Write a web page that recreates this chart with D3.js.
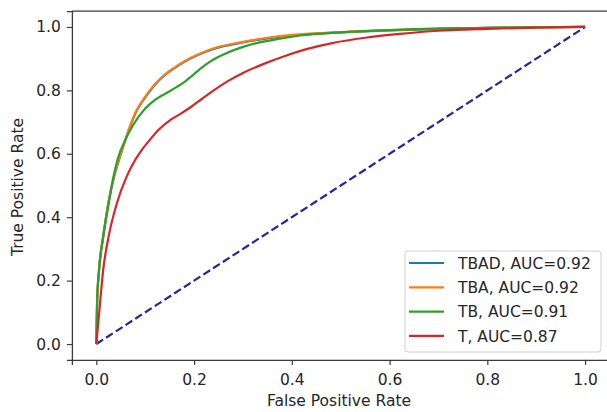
<!DOCTYPE html>
<html>
<head>
<meta charset="utf-8">
<script src="https://cdn.jsdelivr.net/npm/d3@7"></script>
<style>
  body { margin: 0; background: #fff; }
  svg { display: block; font-family: "DejaVu Sans", sans-serif; }
</style>
</head>
<body>
<svg></svg>
<script>
const width = 607;
const height = 412;

// ROC points: [fpr, tpr]
const seriesNames = ["TBAD, AUC=0.92", "TBA, AUC=0.92", "TB, AUC=0.91", "T, AUC=0.87"];
const seriesColors = ["#1f77b4", "#ff7f0e", "#2ca02c", "#d62728"];

const tbadPoints = [[0,0],[0.0015,0.128],[0.0055,0.232],[0.014,0.337],[0.025,0.447],[0.036,0.525],[0.05,0.598],[0.065,0.668],[0.08,0.728],[0.1,0.778],[0.12,0.818],[0.14,0.848],[0.16,0.87],[0.18,0.89],[0.21,0.913],[0.245,0.933],[0.3,0.951],[0.35,0.964],[0.4,0.973],[0.45,0.979],[0.5,0.983],[0.6,0.989],[0.7,0.994],[0.8,0.997],[0.9,0.999],[1,1]];
const tbaPoints = [[0,0],[0.0015,0.13],[0.0055,0.235],[0.014,0.34],[0.025,0.45],[0.036,0.528],[0.05,0.6],[0.065,0.67],[0.08,0.73],[0.1,0.78],[0.12,0.82],[0.14,0.85],[0.16,0.872],[0.18,0.892],[0.21,0.915],[0.245,0.935],[0.3,0.953],[0.35,0.966],[0.4,0.975],[0.45,0.98],[0.5,0.984],[0.6,0.99],[0.7,0.995],[0.8,0.997],[0.9,0.999],[1,1]];
const tbPoints = [[0,0],[0.0015,0.13],[0.0055,0.233],[0.014,0.338],[0.025,0.44],[0.035,0.528],[0.045,0.59],[0.059,0.643],[0.075,0.69],[0.1,0.743],[0.12,0.77],[0.147,0.795],[0.165,0.811],[0.18,0.826],[0.195,0.845],[0.215,0.871],[0.232,0.89],[0.26,0.913],[0.294,0.934],[0.33,0.95],[0.376,0.963],[0.417,0.973],[0.5,0.983],[0.6,0.99],[0.7,0.995],[0.8,0.997],[0.9,0.999],[1,1]];
const tPoints = [[0,0],[0.0025,0.044],[0.0076,0.13],[0.014,0.233],[0.025,0.338],[0.042,0.444],[0.062,0.528],[0.072,0.56],[0.093,0.612],[0.11,0.645],[0.127,0.675],[0.151,0.706],[0.172,0.726],[0.192,0.746],[0.215,0.772],[0.24,0.8],[0.27,0.83],[0.3,0.855],[0.34,0.882],[0.383,0.907],[0.43,0.93],[0.485,0.95],[0.55,0.966],[0.621,0.978],[0.7,0.988],[0.8,0.994],[0.9,0.998],[1,1]];
const diagonal = [[0,0],[1,1]];

const xTicks = [0, 0.2, 0.4, 0.6, 0.8, 1.0];
const yTicks = [0, 0.2, 0.4, 0.6, 0.8, 1.0];

const svg = d3.select("svg")
    .attr("width", width)
    .attr("height", height);

// matplotlib style 5% margins on both axes
const x = d3.scaleLinear().domain([-0.05, 1.05]).range([71.9, 609.5]);
const y = d3.scaleLinear().domain([-0.05, 1.05]).range([359.9, 11.1]);

const line = d3.line()
    .x(d => x(d[0]))
    .y(d => y(d[1]))
    .curve(d3.curveMonotoneX);

// axes
const xAxis = svg.append("g")
    .attr("transform", `translate(0,${y.range()[0]})`)
    .call(d3.axisBottom(x).tickValues(xTicks).tickFormat(d3.format(".1f")).tickSizeOuter(0).tickSize(5).tickPadding(9));

const yAxis = svg.append("g")
    .attr("transform", `translate(${x.range()[0]},0)`)
    .call(d3.axisLeft(y).tickValues(yTicks).tickFormat(d3.format(".1f")).tickSizeOuter(0).tickSize(5).tickPadding(6));

[xAxis, yAxis].forEach(g => {
    g.select(".domain").attr("stroke", "#3a3a3a").attr("stroke-width", 1.3);
    g.selectAll(".tick line").attr("stroke", "#3a3a3a").attr("stroke-width", 1.2);
    g.selectAll(".tick text").attr("fill", "#262626").style("font-size", "15.5px").style("font-family", "DejaVu Sans");
});

// top spine (right one falls outside the picture)
svg.append("line")
    .attr("x1", x.range()[0]).attr("x2", x.range()[1])
    .attr("y1", y.range()[1]).attr("y2", y.range()[1])
    .attr("stroke", "#3a3a3a").attr("stroke-width", 1.3);

// chance line
svg.append("path")
    .datum(diagonal)
    .attr("d", d3.line().x(d => x(d[0])).y(d => y(d[1])))
    .attr("fill", "none")
    .attr("stroke", "#2424a8")
    .attr("stroke-width", 2.2)
    .attr("stroke-dasharray", "8,3.6");

const allSeries = [tbadPoints, tbaPoints, tbPoints, tPoints];

svg.selectAll(".roc")
    .data(allSeries)
    .enter().append("path")
    .attr("class", "roc")
    .attr("d", line)
    .attr("fill", "none")
    .attr("stroke", (d, i) => seriesColors[i])
    .attr("stroke-width", 2.2)
    .attr("stroke-linejoin", "round");

// legend
const legend = svg.append("g");
legend.append("rect")
    .attr("x", 405).attr("y", 251)
    .attr("width", 196).attr("height", 101)
    .attr("rx", 3)
    .attr("fill", "#fff").attr("fill-opacity", 0.85)
    .attr("stroke", "#d0d0d0").attr("stroke-width", 1);

const items = legend.selectAll(".item")
    .data(seriesNames)
    .enter().append("g")
    .attr("class", "item")
    .attr("transform", (d, i) => `translate(0,${263 + i * 24.3})`);

items.append("line")
    .attr("x1", 409).attr("x2", 444)
    .attr("stroke", (d, i) => seriesColors[i])
    .attr("stroke-width", 2.2);

items.append("text")
    .attr("x", 458)
    .attr("y", 5.6)
    .attr("fill", "#262626")
    .style("font-size", "15.5px")
    .text(d => d);

// axis labels
svg.append("text")
    .attr("x", 339)
    .attr("y", 406)
    .attr("text-anchor", "middle")
    .attr("fill", "#262626")
    .style("font-size", "15.5px")
    .text("False Positive Rate");

svg.append("text")
    .attr("transform", "translate(23,187) rotate(-90)")
    .attr("text-anchor", "middle")
    .attr("fill", "#262626")
    .style("font-size", "15.5px")
    .text("True Positive Rate");
</script>
</body>
</html>
